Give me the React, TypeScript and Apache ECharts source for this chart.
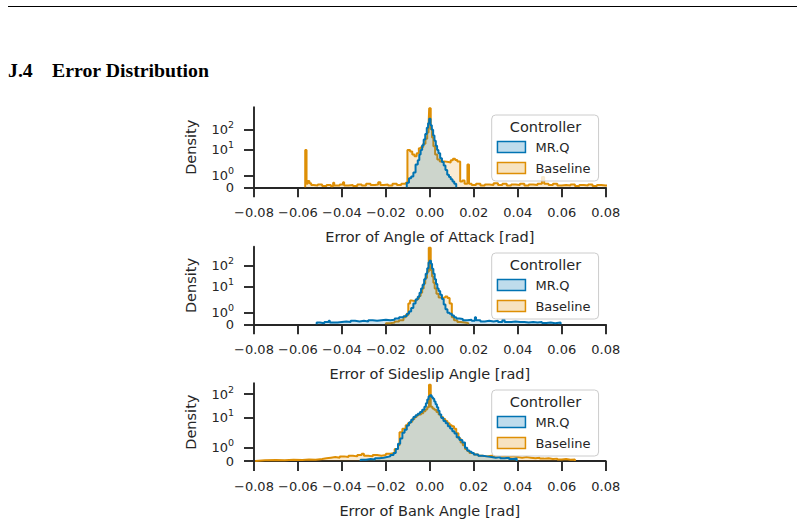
import React, { useEffect, useRef } from 'react';
import * as echarts from 'echarts';

// ---------- data ----------
const seriesNames = ['MR.Q', 'Baseline'];
const xLabels = [
  'Error of Angle of Attack [rad]',
  'Error of Sideslip Angle [rad]',
  'Error of Bank Angle [rad]',
];
const yTickValues = [0, 1, 10, 100];
const yTickLabels = ['0', '10{sup|0}', '10{sup|1}', '10{sup|2}'];
const legendTitle = 'Controller';

// histogram steps: [bin start, density]; last entry closes the histogram
const aoaMrq: number[][] = [
  [-0.0105, 0.4], [-0.0095, 0.8], [-0.0085, 0.95], [-0.0075, 1.3], [-0.0065, 2.0], [-0.0055, 3.2],
  [-0.0048, 6], [-0.0042, 10], [-0.0035, 17], [-0.0028, 32], [-0.0021, 60], [-0.0014, 120],
  [-0.0008, 200], [-0.0003, 330], [0.0003, 160], [0.0009, 95], [0.0015, 50], [0.0021, 28],
  [0.0027, 16], [0.0033, 10], [0.0039, 7], [0.0047, 4], [0.0055, 2.6], [0.0063, 1.9],
  [0.0071, 1.5], [0.0079, 1.1], [0.0087, 0.9], [0.0095, 0.7], [0.0103, 0.5], [0.0111, 0.3],
  [0.012, 0],
];
const aoaBase: number[][] = [
  [-0.0567, 10], [-0.0561, 0.3], [-0.0556, 0.55], [-0.0548, 0.35], [-0.054, 0.2], [-0.053, 0.15],
  [-0.051, 0.25], [-0.049, 0.12], [-0.047, 0.2], [-0.045, 0.1], [-0.044, 0.4], [-0.0435, 0.15],
  [-0.041, 0.25], [-0.0395, 0.45], [-0.039, 0.15], [-0.037, 0.2], [-0.035, 0.12], [-0.033, 0.25],
  [-0.031, 0.15], [-0.029, 0.3], [-0.027, 0.2], [-0.025, 0.25], [-0.0235, 0.45], [-0.0225, 0.2],
  [-0.021, 0.25], [-0.019, 0.15], [-0.017, 0.3], [-0.015, 0.2], [-0.013, 0.3], [-0.011, 0.4],
  [-0.0102, 10], [-0.009, 8.5], [-0.008, 6], [-0.007, 5], [-0.006, 7], [-0.005, 12],
  [-0.004, 14], [-0.003, 20], [-0.002, 35], [-0.0012, 70], [-0.0006, 150], [-0.0003, 1050],
  [0.0004, 100], [0.001, 40], [0.0016, 15], [0.0024, 6], [0.0034, 3.5], [0.0045, 2.8],
  [0.0065, 2.6], [0.0085, 2.5], [0.0095, 3.2], [0.0105, 3.8], [0.0115, 3.3], [0.0125, 2.8],
  [0.0138, 0.5], [0.0148, 0.6], [0.0158, 0.3], [0.0171, 2.0], [0.0178, 0.3], [0.019, 0.2],
  [0.021, 0.3], [0.023, 0.15], [0.025, 0.25], [0.027, 0.2], [0.029, 0.35], [0.031, 0.2],
  [0.033, 0.3], [0.035, 0.15], [0.037, 0.25], [0.039, 0.2], [0.041, 0.3], [0.043, 0.15],
  [0.045, 0.25], [0.047, 0.2], [0.049, 0.3], [0.051, 0.9], [0.052, 0.3], [0.054, 0.2],
  [0.056, 0.3], [0.058, 0.15], [0.06, 0.2], [0.062, 0.15], [0.064, 0.25], [0.066, 0.12],
  [0.068, 0.2], [0.07, 0.15], [0.072, 0.25], [0.074, 0.12], [0.076, 0.2], [0.078, 0.15],
  [0.08, 0.15], [0.082, 0],
];
const ssMrq: number[][] = [
  [-0.0515, 0.15], [-0.05, 0.1], [-0.048, 0.2], [-0.046, 0.3], [-0.0455, 0.15], [-0.044, 0.15],
  [-0.042, 0.2], [-0.04, 0.25], [-0.038, 0.2], [-0.036, 0.3], [-0.034, 0.25], [-0.032, 0.3],
  [-0.03, 0.25], [-0.028, 0.35], [-0.026, 0.3], [-0.024, 0.35], [-0.022, 0.4], [-0.02, 0.35],
  [-0.018, 0.4], [-0.016, 0.5], [-0.014, 0.6], [-0.012, 0.7], [-0.0105, 0.9], [-0.0095, 1.1],
  [-0.0085, 1.4], [-0.0075, 1.8], [-0.0065, 2.4], [-0.0055, 3.2], [-0.0047, 5], [-0.004, 8],
  [-0.0033, 12], [-0.0026, 22], [-0.0019, 40], [-0.0012, 75], [-0.0006, 140], [-0.0001, 170],
  [0.0005, 120], [0.001, 70], [0.0016, 40], [0.0022, 22], [0.0028, 13], [0.0034, 8],
  [0.004, 6], [0.0047, 4], [0.0055, 2.5], [0.0063, 1.7], [0.0071, 1.3], [0.008, 1.0],
  [0.009, 0.9], [0.01, 0.75], [0.011, 0.6], [0.012, 0.5], [0.0135, 0.45], [0.015, 0.35],
  [0.017, 0.4], [0.019, 0.3], [0.0205, 0.6], [0.021, 0.35], [0.023, 0.25], [0.025, 0.3],
  [0.027, 0.25], [0.029, 0.3], [0.031, 0.2], [0.033, 0.4], [0.034, 0.2], [0.037, 0.25],
  [0.039, 0.2], [0.041, 0.2], [0.043, 0.15], [0.045, 0.2], [0.047, 0.15], [0.049, 0.2],
  [0.051, 0.12], [0.053, 0.15], [0.055, 0.1], [0.057, 0.15], [0.0595, 0],
];
const ssBase: number[][] = [
  [-0.02, 0.1], [-0.018, 0.15], [-0.016, 0.25], [-0.014, 0.35], [-0.012, 0.6], [-0.011, 0.8],
  [-0.0098, 1.8], [-0.009, 2.1], [-0.008, 2.0], [-0.007, 2.1], [-0.006, 2.6], [-0.005, 3.5],
  [-0.0042, 5], [-0.0035, 8], [-0.0028, 14], [-0.0021, 25], [-0.0013, 50], [-0.0005, 700],
  [0.0004, 60], [0.001, 30], [0.0016, 15], [0.0022, 8], [0.003, 4.5], [0.004, 3],
  [0.005, 2.8], [0.006, 3.0], [0.007, 3.3], [0.008, 2.8], [0.009, 1.8], [0.01, 0.6],
  [0.011, 0.35], [0.0125, 0.2], [0.014, 0.15], [0.016, 0.1], [0.0175, 0],
];
const bankMrq: number[][] = [
  [-0.0315, 0.1], [-0.029, 0.15], [-0.027, 0.12], [-0.025, 0.2], [-0.023, 0.25], [-0.021, 0.3],
  [-0.0195, 0.35], [-0.018, 0.45], [-0.0165, 0.6], [-0.0155, 0.9], [-0.0145, 1.3], [-0.0135, 1.7],
  [-0.0125, 2.4], [-0.0115, 3.2], [-0.0105, 4.8], [-0.0095, 6.5], [-0.0085, 8.5], [-0.0075, 11],
  [-0.0065, 13], [-0.0055, 15], [-0.0045, 18], [-0.0035, 22], [-0.0025, 30], [-0.0018, 42],
  [-0.0012, 60], [-0.0006, 80], [0.0, 90], [0.0008, 75], [0.0014, 65], [0.002, 50],
  [0.0026, 38], [0.0032, 28], [0.0038, 20], [0.0044, 14], [0.0052, 10], [0.0062, 7.5],
  [0.0072, 6], [0.0082, 4.5], [0.0092, 3.6], [0.0102, 2.8], [0.0112, 2.2], [0.0122, 1.8],
  [0.0135, 1.6], [0.0148, 1.4], [0.016, 1.0], [0.017, 0.8], [0.018, 0.7], [0.019, 0.6],
  [0.02, 0.5], [0.022, 0.4], [0.024, 0.35], [0.026, 0.3], [0.028, 0.25], [0.03, 0.3],
  [0.032, 0.2], [0.034, 0.25], [0.036, 0.15], [0.038, 0.2], [0.0395, 0],
];
const bankBase: number[][] = [
  [-0.0795, 0.05], [-0.075, 0.08], [-0.07, 0.06], [-0.066, 0.1], [-0.062, 0.08], [-0.058, 0.12],
  [-0.055, 0.1], [-0.052, 0.15], [-0.049, 0.2], [-0.047, 0.25], [-0.045, 0.3], [-0.043, 0.25],
  [-0.041, 0.35], [-0.039, 0.3], [-0.037, 0.4], [-0.035, 0.35], [-0.033, 0.45], [-0.031, 0.55],
  [-0.03, 0.4], [-0.028, 0.35], [-0.026, 0.45], [-0.024, 0.4], [-0.022, 0.45], [-0.02, 0.55],
  [-0.018, 0.6], [-0.016, 0.9], [-0.0145, 1.2], [-0.0138, 2.5], [-0.0125, 3.5], [-0.011, 5],
  [-0.01, 6], [-0.009, 7], [-0.008, 9], [-0.007, 11], [-0.006, 13], [-0.005, 14],
  [-0.004, 16], [-0.003, 19], [-0.002, 23], [-0.0012, 28], [-0.0004, 250], [0.0004, 30],
  [0.0012, 25], [0.002, 22], [0.003, 18], [0.004, 14], [0.005, 11], [0.006, 9],
  [0.007, 7.5], [0.008, 6], [0.009, 5], [0.01, 4.5], [0.011, 3.5], [0.012, 2.3],
  [0.013, 1.7], [0.014, 1.4], [0.015, 1.2], [0.016, 0.9], [0.017, 0.75], [0.018, 0.6],
  [0.02, 0.5], [0.022, 0.4], [0.024, 0.35], [0.026, 0.4], [0.028, 0.35], [0.03, 0.3],
  [0.032, 0.35], [0.034, 0.3], [0.036, 0.35], [0.038, 0.3], [0.04, 0.25], [0.042, 0.3],
  [0.044, 0.25], [0.046, 0.2], [0.048, 0.25], [0.05, 0.18], [0.052, 0.2], [0.054, 0.15],
  [0.056, 0.18], [0.058, 0.12], [0.06, 0.15], [0.062, 0.1], [0.064, 0.12], [0.066, 0],
];

const panelData = [
  [aoaMrq, aoaBase],
  [ssMrq, ssBase],
  [bankMrq, bankBase],
];

// ---------- symlog transform (linthresh 2, base 10) ----------
const LINTHRESH = 2;
const LINSCALE = 1 / (1 - 1 / 10);
function symlog(v: number): number {
  const a = Math.abs(v);
  const s = v < 0 ? -1 : 1;
  if (a <= LINTHRESH) return (s * a * LINSCALE) / LINTHRESH;
  return s * (LINSCALE + Math.log10(a / LINTHRESH));
}

// ---------- layout / style ----------
const COLORS = ['#0173b2', '#de8f05'];
const FILLS = ['rgba(1,115,178,0.25)', 'rgba(222,143,5,0.25)'];
const INK = '#262626';
const FONT = 'DejaVu Sans';
const gridTops = [107.3, 246.7, 383.3];
const gridHeights = [80, 77.6, 77.7];
const yMaxUnits = [3.88, 3.71, 3.27];
const legendTops = [115, 253, 390];
const legendTitleYs = [126.7, 264.5, 401.7];

function xFmt(v: number): string {
  const r = Math.round(v * 100) / 100;
  if (Math.abs(r) < 1e-9) return '0.00';
  return (r < 0 ? '\u2212' : '') + Math.abs(r).toFixed(2);
}

export default function App() {
  const ref = useRef<HTMLDivElement>(null);
  useEffect(() => {
    if (!ref.current) return;
    const chart = echarts.init(ref.current, undefined, { renderer: 'svg' });
    const yPos = yTickValues.map(symlog);
    const yFmt = (v: number) => {
      const i = yPos.findIndex((p) => Math.abs(p - v) < 1e-6);
      return i >= 0 ? yTickLabels[i] : '';
    };
    // labels split over two co-located axes so that close labels are not auto-hidden
    const labelSets = [
      [yPos[0], yPos[2]],
      [yPos[1], yPos[3]],
    ];

    const grids = gridTops.map((t, i) => ({
      left: 254,
      width: 351.7,
      top: t,
      height: gridHeights[i],
      containLabel: false,
    }));

    const xAxes = gridTops.map((_, i) => ({
      type: 'value',
      gridIndex: i,
      min: -0.08,
      max: 0.08,
      interval: 0.02,
      name: xLabels[i],
      nameLocation: 'middle',
      nameGap: 42,
      nameTextStyle: { fontSize: 14.5, color: INK, fontFamily: FONT },
      axisLine: { show: true, onZero: false, lineStyle: { color: INK, width: 1.9 } },
      axisTick: { show: true, length: 10, lineStyle: { color: INK, width: 1.9 } },
      axisLabel: {
        fontSize: 13, color: INK, fontFamily: FONT, margin: 18.5, formatter: xFmt,
        hideOverlap: false, showMinLabel: true, showMaxLabel: true,
      },
      splitLine: { show: false },
    }));

    const yAxes: any[] = [];
    gridTops.forEach((_, i) => {
      [0, 1].forEach((s) => {
        yAxes.push({
          type: 'value',
          gridIndex: i,
          position: 'left',
          offset: 0,
          min: 0,
          max: yMaxUnits[i],
          name: s === 0 ? 'Density' : '',
          nameLocation: 'middle',
          nameGap: 56,
          nameTextStyle: { fontSize: 14.5, color: INK, fontFamily: FONT },
          axisLine: { show: s === 0, onZero: false, lineStyle: { color: INK, width: 1.9 } },
          axisTick: {
            show: s === 0,
            length: 10,
            customValues: yPos,
            lineStyle: { color: INK, width: 1.9 },
          },
          axisLabel: {
            customValues: labelSets[s],
            formatter: yFmt,
            hideOverlap: false,
            showMinLabel: true,
            showMaxLabel: true,
            margin: 20,
            fontSize: 13,
            color: INK,
            fontFamily: FONT,
            rich: {
              sup: { fontSize: 9.5, color: INK, fontFamily: FONT, padding: [0, 0, 10, 0] },
            },
          },
          splitLine: { show: false },
        });
      });
    });

    const series: any[] = [];
    panelData.forEach((pair, p) => {
      // Baseline drawn first, MR.Q on top
      [1, 0].forEach((k) => {
        const arr = pair[k];
        const pts = [[arr[0][0], 0], ...arr.map(([x, v]) => [x, symlog(v)])];
        series.push({
          name: seriesNames[k],
          type: 'line',
          xAxisIndex: p,
          yAxisIndex: p * 2,
          step: 'end',
          symbol: 'none',
          showSymbol: false,
          clip: true,
          data: pts,
          lineStyle: { color: COLORS[k], width: 2 },
          itemStyle: { color: COLORS[k] },
          areaStyle: { color: FILLS[k], origin: 'start' },
          z: 2 + (1 - k),
        });
      });
    });

    const legends = legendTops.map((t) => ({
      show: true,
      orient: 'vertical',
      left: 491.7,
      top: t,
      padding: [25, 8, 6, 5],
      itemWidth: 28,
      itemHeight: 11,
      itemGap: 7,
      icon: 'rect',
      selectedMode: false,
      backgroundColor: 'rgba(255,255,255,0.8)',
      borderColor: '#cccccc',
      borderWidth: 1,
      borderRadius: 4,
      textStyle: { fontSize: 13, color: INK, fontFamily: FONT, padding: [0, 0, 0, 5], lineHeight: 14 },
      data: seriesNames.map((n, k) => ({
        name: n,
        icon: 'rect',
        itemStyle: { color: FILLS[k], borderColor: COLORS[k], borderWidth: 1.5 },
      })),
    }));

    const graphic: any[] = [
      {
        type: 'line',
        shape: { x1: 8, y1: 6.5, x2: 797, y2: 6.5 },
        style: { stroke: '#000', lineWidth: 1 },
        silent: true,
      },
      {
        type: 'text',
        x: 8,
        y: 70,
        style: {
          text: 'J.4',
          fontSize: 19.8,
          fontWeight: 'bold',
          fontFamily: 'Liberation Serif',
          fill: '#000',
          verticalAlign: 'middle',
        },
      },
      {
        type: 'text',
        x: 52,
        y: 70,
        style: {
          text: 'Error Distribution',
          fontSize: 19.8,
          fontWeight: 'bold',
          fontFamily: 'Liberation Serif',
          fill: '#000',
          verticalAlign: 'middle',
        },
      },
      ...legendTitleYs.map((y) => ({
        type: 'text',
        x: 545.5,
        y,
        z: 100,
        style: {
          text: legendTitle,
          fontSize: 14.5,
          fontFamily: FONT,
          fill: INK,
          align: 'center',
          verticalAlign: 'middle',
        },
      })),
    ];

    chart.setOption({
      animation: false,
      backgroundColor: '#ffffff',
      grid: grids,
      xAxis: xAxes,
      yAxis: yAxes,
      legend: legends,
      series,
      graphic,
    });
    return () => chart.dispose();
  }, []);

  return (
    <div
      ref={ref}
      style={{ position: 'fixed', left: 0, top: 0, width: 805, height: 526, background: '#fff' }}
    />
  );
}
